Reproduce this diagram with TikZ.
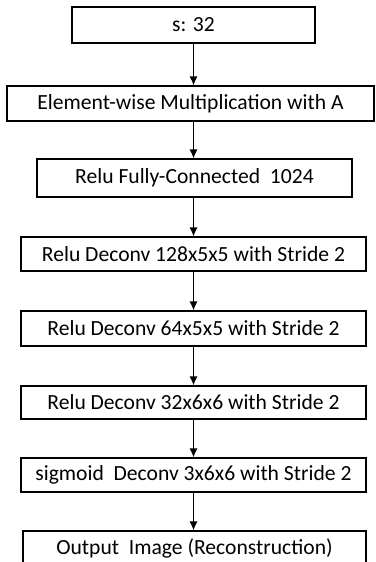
\documentclass[tikz,border=0pt]{standalone}
\usepackage{fontspec}
\usepackage{tikz}
\setmainfont{Carlito}
\usetikzlibrary{arrows.meta}

\begin{document}
\begin{tikzpicture}[x = 1pt, y = 1pt, line width = 1.2pt,
  layer/.style = {draw, inner sep = 0pt, minimum width = #1, minimum height = 35pt,
    font = \fontsize{21.6}{25}\selectfont},
  arr/.style = {-{Latex[length = 9pt, width = 8pt]}}]
\useasboundingbox (0,0) rectangle (375,-562);
\clip (0,0) rectangle (375,-562);
\node[layer = 243pt, minimum height = 36pt] (s) at (193.5,-25) {s: 32};
\node[layer = 367pt] (mult) at (190.5,-103.5) {Element-wise Multiplication with A};
\node[layer = 315pt, minimum height = 38pt] (fc) at (194.5,-178) {Relu Fully-Connected~~1024};
\node[layer = 345pt, minimum height = 34pt] (dc1) at (193.5,-254) {Relu Deconv 128x5x5 with Stride 2};
\node[layer = 345pt] (dc2) at (193.5,-328.5) {Relu Deconv 64x5x5 with Stride 2};
\node[layer = 345pt, minimum height = 33pt] (dc3) at (193.5,-402.5) {Relu Deconv 32x6x6 with Stride 2};
\node[layer = 345pt, minimum height = 34pt] (dc4) at (193.5,-475) {sigmoid~ Deconv 3x6x6 with Stride 2};
\node[layer = 343pt] (out) at (194.5,-548.5) {Output~ Image (Reconstruction)};
\foreach \a/\b in {s/mult, mult/fc, fc/dc1, dc1/dc2, dc2/dc3, dc3/dc4, dc4/out}
{
\draw[arr] (\a.south -| s) -- (s |- \b.north);
}
\end{tikzpicture}
\end{document}
